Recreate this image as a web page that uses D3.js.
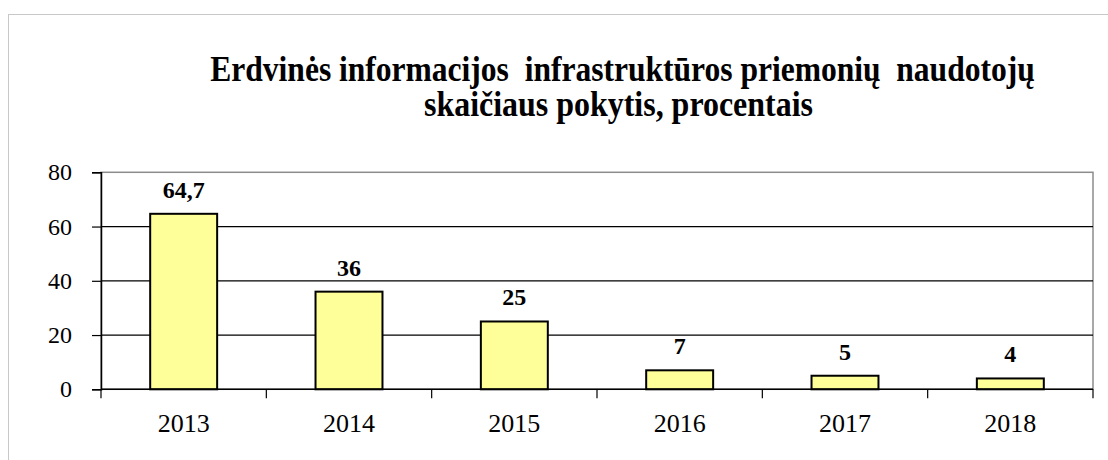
<!DOCTYPE html>
<html>
<head>
<meta charset="utf-8">
<script src="https://cdn.jsdelivr.net/npm/d3@7"></script>
<style>
  html, body { margin: 0; padding: 0; background: #fff; }
  svg { display: block; }
  svg text { font-family: "Liberation Serif", "Times New Roman", Times, serif !important; }
</style>
</head>
<body>
<svg id="chart" width="1108" height="460"></svg>
<script>
const titleLines = ["Erdvinės informacijos  infrastruktūros priemonių  naudotojų", "skaičiaus pokytis, procentais"];
const categories = ["2013", "2014", "2015", "2016", "2017", "2018"];
const values = [64.7, 36, 25, 7, 5, 4];
const valueLabels = ["64,7", "36", "25", "7", "5", "4"];
const yTicks = [0, 20, 40, 60, 80];

const svg = d3.select("#chart");
const W = 1108, H = 460;
const plot = { left: 101, right: 1093, top: 172.3, bottom: 389.3 };

// outer frame
svg.append("rect")
  .attr("x", 8.5).attr("y", 14.5)
  .attr("width", W).attr("height", H)
  .attr("fill", "#fff").attr("stroke", "#c8c8c8").attr("stroke-width", 1);

// title (horizontally condensed to match the reference widths)
const titleSpecs = [
  { x: 622.5, y: 80.5, len: 825 },
  { x: 618.5, y: 116, len: 389 }
];
titleLines.forEach((t, i) => {
  const g = svg.append("g");
  const txt = g.append("text")
    .attr("x", 0).attr("y", 0)
    .attr("text-anchor", "middle")
    .style("font-weight", "bold").style("font-size", "35px")
    .style("white-space", "pre")
    .attr("fill", "#000")
    .text(t);
  const natural = txt.node().getComputedTextLength() || titleSpecs[i].len;
  const sx = Math.min(1, titleSpecs[i].len / natural);
  g.attr("transform", `translate(${titleSpecs[i].x},${titleSpecs[i].y}) scale(${sx},1)`);
});

const x = d3.scaleBand().domain(categories)
  .range([plot.left, plot.right])
  .paddingInner(0.595).paddingOuter(0.2975);
const y = d3.scaleLinear().domain([0, 80]).range([plot.bottom, plot.top]);

// plot frame (gray)
svg.append("rect")
  .attr("x", plot.left).attr("y", plot.top)
  .attr("width", plot.right - plot.left).attr("height", plot.bottom - plot.top)
  .attr("fill", "none").attr("stroke", "#8c8c8c").attr("stroke-width", 1.5);

// gridlines
svg.append("g").selectAll("line")
  .data(yTicks.filter(d => d > 0 && d < 80))
  .join("line")
  .attr("x1", plot.left).attr("x2", plot.right)
  .attr("y1", d => y(d)).attr("y2", d => y(d))
  .attr("stroke", "#000").attr("stroke-width", 1.2);

// y axis
const yAxis = d3.axisLeft(y).tickValues(yTicks).tickSize(9).tickPadding(20).tickFormat(d3.format("d"));
const yg = svg.append("g").attr("transform", `translate(${plot.left},0)`).call(yAxis);
yg.attr("font-family", null).attr("font-size", null);
yg.select(".domain").attr("stroke", "#000").attr("stroke-width", 1.5);
yg.selectAll(".tick line").attr("stroke", "#000").attr("stroke-width", 1.2);
yg.selectAll(".tick text").style("font-size", "24px").attr("fill", "#000");

// bars
svg.append("g").selectAll("rect")
  .data(values)
  .join("rect")
  .attr("x", (d, i) => x(categories[i]))
  .attr("y", d => y(d))
  .attr("width", x.bandwidth())
  .attr("height", d => y(0) - y(d))
  .attr("fill", "#ffff99")
  .attr("stroke", "#000").attr("stroke-width", 2);

// x axis
const xBoundaries = d3.range(categories.length + 1).map(i => plot.left + i * x.step());
const xg = svg.append("g");
xg.append("line")
  .attr("x1", plot.left).attr("x2", plot.right)
  .attr("y1", plot.bottom).attr("y2", plot.bottom)
  .attr("stroke", "#000").attr("stroke-width", 1.5);
xg.selectAll("line.tk").data(xBoundaries).join("line").attr("class", "tk")
  .attr("x1", d => d).attr("x2", d => d)
  .attr("y1", plot.bottom).attr("y2", plot.bottom + 9)
  .attr("stroke", "#000").attr("stroke-width", 1.2);
xg.selectAll("text").data(categories).join("text")
  .attr("x", d => x(d) + x.bandwidth() / 2)
  .attr("y", 432)
  .attr("text-anchor", "middle")
  .style("font-size", "26px").attr("fill", "#000")
  .text(d => d);

// value labels
svg.append("g").selectAll("text")
  .data(values)
  .join("text")
  .attr("x", (d, i) => x(categories[i]) + x.bandwidth() / 2)
  .attr("y", d => y(d) - 16)
  .attr("text-anchor", "middle")
  .style("font-weight", "bold").style("font-size", "24px").attr("fill", "#000")
  .text((d, i) => valueLabels[i]);
</script>
</body>
</html>
